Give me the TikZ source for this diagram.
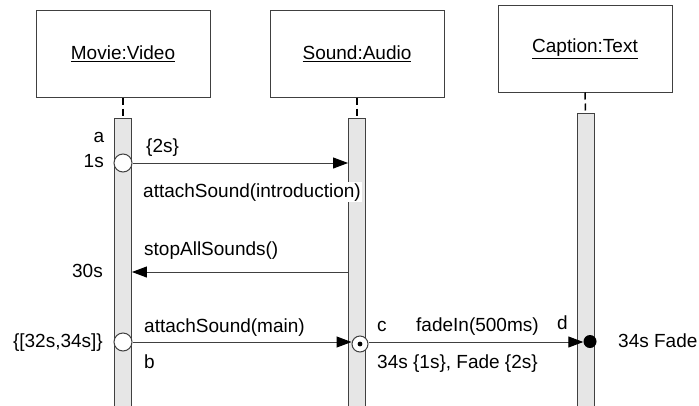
\documentclass[tikz,border=0pt]{standalone}
\usepackage{fontspec}
\setmainfont{Liberation Sans}
\usetikzlibrary{arrows.meta}
\definecolor{linecol}{HTML}{404040}
\definecolor{barfill}{HTML}{E6E6E6}
\begin{document}
\begin{tikzpicture}[x=1pt,y=-1pt,
  obj/.style={draw=linecol, line width=1pt, minimum width=174pt, minimum height=87pt, inner sep=0pt, font=\fontsize{19}{22}\selectfont},
  actbar/.style={draw=linecol, fill=barfill, line width=0.9pt, minimum width=17pt, minimum height=320pt, inner sep=0pt, anchor=north},
  life/.style={draw=black, line width=1.5pt, dash pattern=on 7pt off 4pt},
  msg/.style={draw=linecol, line width=1pt, -{Triangle[length=15pt,width=11pt,color=black]}},
  lbl/.style={inner sep=0pt, font=\fontsize{19}{22}\selectfont},
  startdot/.style={circle, draw=linecol, fill=white, line width=1pt, minimum size=18pt, inner sep=0pt},
  enddot/.style={circle, fill=black, minimum size=13pt, inner sep=0pt}
]
\useasboundingbox (0,0) rectangle (699,405);
% objects
\node[obj] (obj1) at (123,53.5) {\underline{Movie:Video}};
\node[obj] (obj2) at (357,53.5) {\underline{Sound:Audio}};
\node[obj] (obj3) at (585,48.5) {\underline{Caption:Text}};
% activation bars
\node[actbar] (bar1) at (123,118) {};
\node[actbar] (bar2) at (357,118) {};
\node[actbar] (bar3) at (585.5,113) {};
\draw[life] (obj1.south) -- (bar1.north);
\draw[life] (obj2.south) -- (bar2.north);
\draw[life] (obj3.south) -- (bar3.north);
% message 1
\node[startdot] (s1) at (123,163) {};
\draw[msg] (s1.east) -- (bar2.west |- s1);
\node[lbl, anchor=base] (la) at (99,142) {a};
\node[lbl, anchor=base east] (l1s) at (104,167) {1s};
\node[lbl, anchor=base west] (l2s) at (146,152) {\{2s\}};
\node[lbl, anchor=base west, fill=white, inner xsep=1pt, inner ysep=1pt] (lintro) at (142,197) {attachSound(introduction)};
% message 2
\coordinate (m2) at (357,272);
\draw[msg] (bar2.west |- m2) -- (bar1.east |- m2);
\node[lbl, anchor=base west] (lstop) at (144,255) {stopAllSounds()};
\node[lbl, anchor=base east] (l30) at (103,277) {30s};
% message 3
\node[startdot] (s3) at (123,342) {};
\node[startdot, minimum size=16pt] (t3) at (360,344) {};
\fill (t3.center) circle (2.4pt);
\draw[msg] (s3.east) -- (t3.west |- s3);
\node[lbl, anchor=base west] (lmain) at (144,332) {attachSound(main)};
\node[lbl, anchor=base east] (l3234) at (103,347) {\{[32s,34s]\}};
\node[lbl, anchor=base west] (lb) at (144,368) {b};
% message 4
\node[enddot] (d4) at (590,341.5) {};
\draw[msg] (t3.east |- s3) -- (d4.west |- s3);
\node[lbl, anchor=base west] (lc) at (377,331) {c};
\node[lbl, anchor=base west] (lfade) at (416,331) {fadeIn(500ms)};
\node[lbl, anchor=base west] (ld) at (557,329) {d};
\node[lbl, anchor=base west] (l34) at (377,368) {34s \{1s\}, Fade \{2s\}};
\node[lbl, anchor=base west] (l34f) at (618,347) {34s Fade};
\end{tikzpicture}
\end{document}
